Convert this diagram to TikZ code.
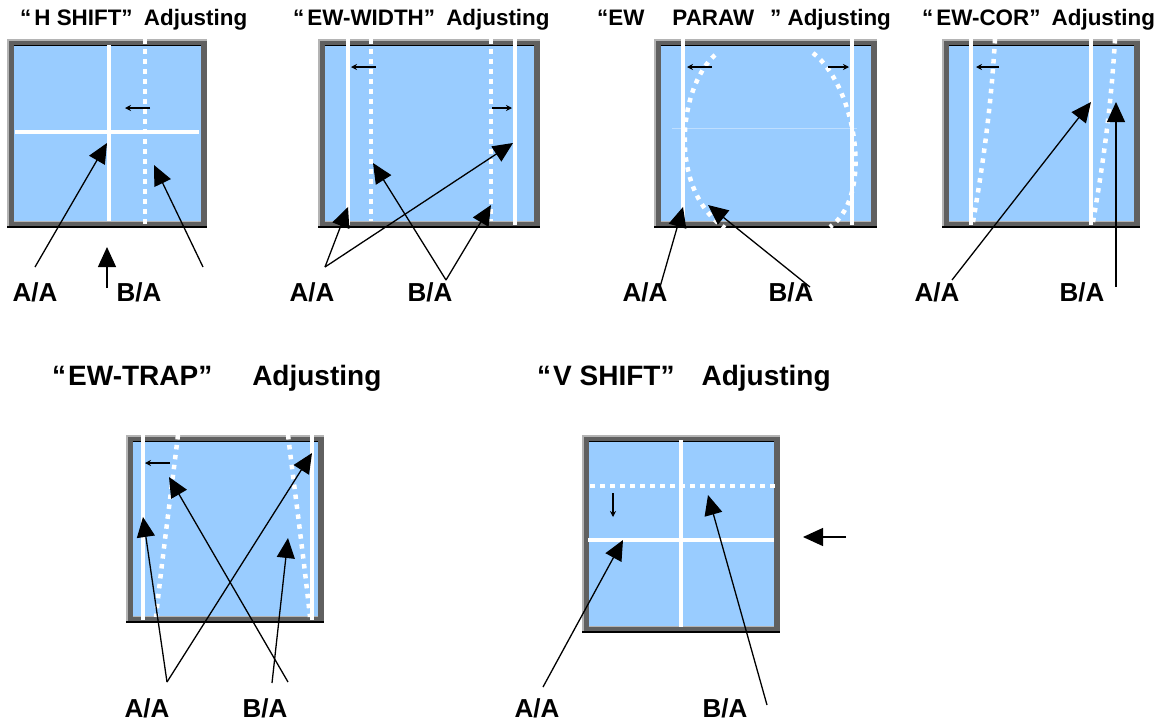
\documentclass[tikz,border=0pt]{standalone}
\usepackage{fontspec}
\setmainfont{Liberation Sans}
\usetikzlibrary{arrows.meta, positioning}
\definecolor{panelblue}{RGB}{153,204,255}
\definecolor{framegray}{RGB}{96,96,96}
\definecolor{edgegray}{RGB}{180,180,180}
\definecolor{faintblue}{RGB}{190,222,255}
\tikzset{
  pane/.style={fill=panelblue},
  rim/.style={draw=framegray, line width=6.5pt},
  bar/.style={white, line width=4.5pt},
  dots/.style={white, line width=4.5pt, dash pattern=on 4.5pt off 5.5pt},
  pointer/.style={-{Triangle[length=20pt,width=18pt]}, line width=1.3pt},
  nudge/.style={-{Stealth[length=6pt,width=6pt]}, line width=1.5pt},
  tag/.style={font=\fontsize{26}{30}\selectfont\bfseries, inner sep=0pt},
  heading/.style={font=\fontsize{22.4}{26}\selectfont\bfseries, inner sep=0pt, anchor=base west},
  bigheading/.style={heading, font=\fontsize{28}{32}\selectfont\bfseries},
}

\begin{document}
\begin{tikzpicture}[x=1pt, y=-1pt]
    \useasboundingbox (0,0) rectangle (1162,724);
    \foreach \xa/\ya/\xb/\yb in {7/39/207/228, 318/39/540/228, 654/39/877/228,
                                 942/39/1140/228, 126/435/324/623, 582/435/780/633} {
        \fill[pane] (\xa,\ya) rectangle (\xb,\yb);
        \draw[rim] (\xa+3.25,\ya+3.25) rectangle (\xb-3.25,\yb-3.25);
        \draw[edgegray, line width=1.5pt] (\xa+0.75,\yb) -- (\xa+0.75,\ya+0.75) -- (\xb,\ya+0.75);
        \draw[black, line width=2pt] (\xa,\yb-1) -- (\xb,\yb-1);
        \draw[black, line width=0.8pt] (\xa+6.5,\ya+6.6) -- (\xb-6.5,\ya+6.6);
        \draw[edgegray, line width=1.2pt] (\xa+6.5,\yb-6.8) -- (\xb-6.5,\yb-6.8);
    }

    % titles
    \node[heading] (h1) at (20,25) {“\hspace{3pt}H SHIFT”\hspace{5pt} Adjusting};
    \node[heading] (h2) at (293,25) {“\hspace{3pt}EW-WIDTH”\hspace{5pt} Adjusting};
    \node[heading] (h3) at (597,25) {“EW\hspace{28pt}PARAW\hspace{16pt}” Adjusting};
    \node[heading] (h4) at (922,25) {“\hspace{3pt}EW-COR”\hspace{5pt} Adjusting};
    \node[bigheading] (h5) at (52,385) {“\hspace{2pt}EW-TRAP”\hspace{40pt}Adjusting};
    \node[bigheading] (h6) at (537,385) {“\hspace{2pt}V SHIFT”\hspace{27pt}Adjusting};

    % H SHIFT
    \draw[bar] (109,45) -- (109,221);
    \draw[bar] (15,132) -- (199,132);
    \draw[dots] (145,39) -- (145,228);
    \node[tag] (aa1) at (35,292) {A/A};
    \node[tag] (ba1) at (139,292) {B/A};
    \coordinate (aa1t) at (35,267);
    \coordinate (aa1p) at (107,143);
    \coordinate (ba1t) at (203,267);
    \coordinate (ba1p) at (154,165);
    \coordinate (up1t) at (107,288);
    \coordinate (up1p) at (107,247);
    \coordinate (n1t) at (150,108);
    \coordinate (n1p) at (125,108);
    \draw[pointer] (aa1t) -- (aa1p);
    \draw[pointer] (ba1t) -- (ba1p);
    \draw[pointer] (up1t) -- (up1p);
    \draw[nudge] (n1t) -- (n1p);

    % EW-WIDTH
    \draw[bar] (348,39) -- (348,225);
    \draw[bar] (515,39) -- (515,225);
    \draw[dots] (371,39) -- (371,221);
    \draw[dots] (491,39) -- (491,221);
    \node[tag] (aa2) at (312,292) {A/A};
    \node[tag] (ba2) at (430,292) {B/A};
    \coordinate (aa2t) at (325,267);
    \coordinate (aa2p) at (348,207);
    \coordinate (aa2q) at (513,143);
    \coordinate (ba2t) at (446,280);
    \coordinate (ba2p) at (373,163);
    \coordinate (ba2q) at (491,205);
    \coordinate (n2t) at (376,67);
    \coordinate (n2p) at (351,67);
    \coordinate (n2u) at (492,108);
    \coordinate (n2v) at (512,108);
    \draw[pointer] (aa2t) -- (aa2p);
    \draw[pointer] (aa2t) -- (aa2q);
    \draw[pointer] (ba2t) -- (ba2p);
    \draw[pointer] (ba2t) -- (ba2q);
    \draw[nudge] (n2t) -- (n2p);
    \draw[nudge] (n2u) -- (n2v);

    % EW PARAW
    \draw[faintblue, line width=0.8pt] (672,128) -- (857,128);
    \draw[bar] (683,39) -- (683,225);
    \draw[bar] (852,39) -- (852,225);
    \draw[dots] (715,55) .. controls (678,88) and (668,190) .. (725,228);
    \draw[dots] (813,53) .. controls (855,85) and (875,195) .. (830,227);
    \node[tag] (aa3) at (645,292) {A/A};
    \node[tag] (ba3) at (791,292) {B/A};
    \coordinate (aa3t) at (660,287);
    \coordinate (aa3p) at (683,207);
    \coordinate (ba3t) at (810,287);
    \coordinate (ba3p) at (708,205);
    \coordinate (n3t) at (712,67);
    \coordinate (n3p) at (687,67);
    \coordinate (n3u) at (828,67);
    \coordinate (n3v) at (849,67);
    \draw[pointer] (aa3t) -- (aa3p);
    \draw[pointer] (ba3t) -- (ba3p);
    \draw[nudge] (n3t) -- (n3p);
    \draw[nudge] (n3u) -- (n3v);

    % EW-COR
    \draw[bar] (971,39) -- (971,225);
    \draw[bar] (1091,39) -- (1091,225);
    \draw[dots] (995,39) .. controls (991,110) and (982,170) .. (973,222);
    \draw[dots] (1115,39) .. controls (1111,110) and (1102,170) .. (1093,222);
    \node[tag] (aa4) at (937,292) {A/A};
    \node[tag] (ba4) at (1082,292) {B/A};
    \coordinate (aa4t) at (952,280);
    \coordinate (aa4p) at (1091,102);
    \coordinate (ba4t) at (1116,287);
    \coordinate (ba4p) at (1116,102);
    \coordinate (n4t) at (999,67);
    \coordinate (n4p) at (976,67);
    \draw[pointer] (aa4t) -- (aa4p);
    \draw[pointer] (ba4t) -- (ba4p);
    \draw[nudge] (n4t) -- (n4p);

    % EW-TRAP
    \draw[bar] (143,435) -- (143,620);
    \draw[bar] (312,435) -- (312,620);
    \draw[dots] (178,435) .. controls (172,485) and (162,560) .. (156,617);
    \draw[dots] (288,435) .. controls (294,485) and (304,560) .. (310,617);
    \node[tag] (aa5) at (147,708) {A/A};
    \node[tag] (ba5) at (265,708) {B/A};
    \coordinate (aa5t) at (167,682);
    \coordinate (aa5p) at (143,517);
    \coordinate (aa5q) at (312,453);
    \coordinate (ba5t) at (288,682);
    \coordinate (ba5p) at (169,477);
    \coordinate (ba5u) at (272,683);
    \coordinate (ba5q) at (288,538);
    \coordinate (n5t) at (170,463);
    \coordinate (n5p) at (145,463);
    \draw[pointer] (aa5t) -- (aa5p);
    \draw[pointer] (aa5t) -- (aa5q);
    \draw[pointer] (ba5t) -- (ba5p);
    \draw[pointer] (ba5u) -- (ba5q);
    \draw[nudge] (n5t) -- (n5p);

    % V SHIFT
    \draw[bar] (681,440) -- (681,627);
    \draw[bar] (588,540) -- (774,540);
    \draw[dots] (590,486) -- (780,486);
    \node[tag] (aa6) at (537,708) {A/A};
    \node[tag] (ba6) at (725,708) {B/A};
    \coordinate (aa6t) at (543,687);
    \coordinate (aa6p) at (623,540);
    \coordinate (ba6t) at (767,705);
    \coordinate (ba6p) at (708,495);
    \coordinate (side6t) at (846,537);
    \coordinate (side6p) at (803,537);
    \coordinate (n6t) at (613,493);
    \coordinate (n6p) at (613,517);
    \draw[pointer] (aa6t) -- (aa6p);
    \draw[pointer] (ba6t) -- (ba6p);
    \draw[pointer] (side6t) -- (side6p);
    \draw[nudge] (n6t) -- (n6p);
\end{tikzpicture}
\end{document}
